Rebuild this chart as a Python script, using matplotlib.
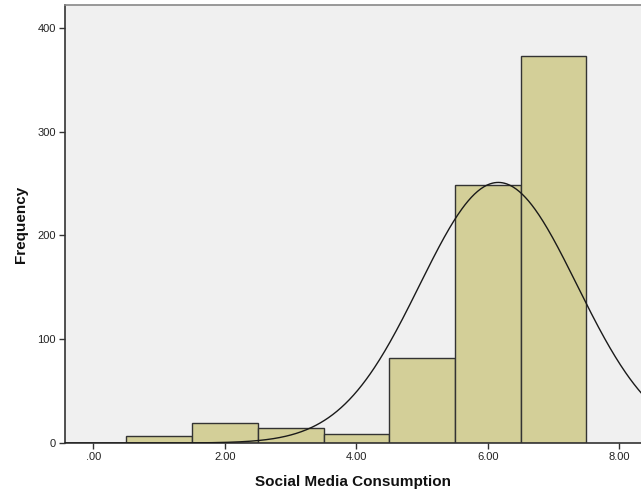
import numpy as np
import matplotlib
matplotlib.use("Agg")
import matplotlib.pyplot as plt

# Histogram of the social media consumption score (bin width 1)
bin_centers = [1, 2, 3, 4, 5, 6, 7]
frequencies = [7, 19, 14, 9, 82, 249, 373]
bin_width = 1.0

x_ticks = [0, 2, 4, 6, 8]
x_tick_labels = [".00", "2.00", "4.00", "6.00", "8.00"]
y_ticks = [0, 100, 200, 300, 400]

plt.rcParams["font.family"] = ["Liberation Sans", "DejaVu Sans"]

fig = plt.figure(figsize=(6.41, 4.92), dpi=100)
fig.patch.set_facecolor("white")
ax = fig.add_axes([65 / 641, 49 / 492, 1 - 65 / 641, (443 - 5.5) / 492])
ax.set_facecolor("#f0f0f0")

ax.bar(bin_centers, frequencies, width=bin_width, color="#d3cf98",
       edgecolor="#333333", linewidth=1.0, zorder=2)

# Normal curve scaled to the counts
counts = np.array(frequencies, dtype=float)
centers = np.array(bin_centers, dtype=float)
n = counts.sum()
mean = (counts * centers).sum() / n
sd = np.sqrt((counts * (centers - mean) ** 2).sum() / (n - 1))
xs = np.linspace(-0.5, 9, 600)
ys = n * bin_width / (sd * np.sqrt(2 * np.pi)) * np.exp(-0.5 * ((xs - mean) / sd) ** 2)
ax.plot(xs, ys, color="#1a1a1a", linewidth=1.0, zorder=3)

ax.set_xlim(-0.433, 8.33)
ax.set_ylim(0, 421.5)
ax.set_xticks(x_ticks)
ax.set_xticklabels(x_tick_labels)
ax.set_yticks(y_ticks)

ax.tick_params(axis="both", direction="out", length=4.5, width=1.0,
               color="#333333", labelsize=8, labelcolor="#222222", pad=2)

for side in ("left", "bottom"):
    ax.spines[side].set_color("#333333")
    ax.spines[side].set_linewidth(1.2)
ax.spines["top"].set_color("#888888")
ax.spines["top"].set_linewidth(1.2)
ax.spines["right"].set_visible(False)

ax.set_xlabel("Social Media Consumption", fontsize=11, fontweight="bold",
              color="#111111", labelpad=9)
ax.set_ylabel("Frequency", fontsize=11, fontweight="bold",
              color="#111111", labelpad=7)

fig.savefig("out.png", dpi=100)
